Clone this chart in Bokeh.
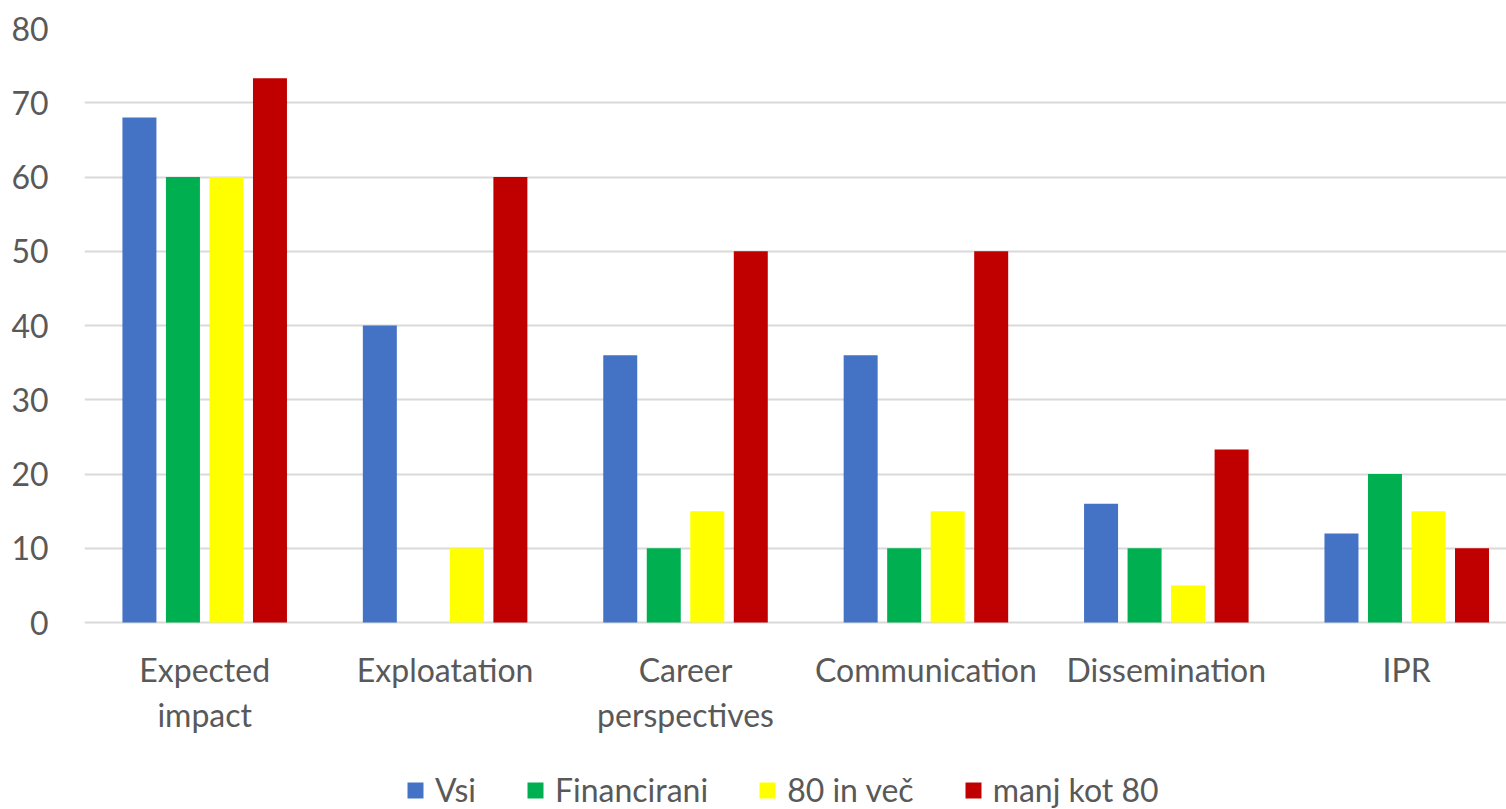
import numpy as np
from bokeh.plotting import figure
from bokeh.models import ColumnDataSource, Range1d, Legend, LegendItem, FixedTicker
from bokeh.core.properties import value
from bokeh.embed import file_html
from bokeh.resources import INLINE

categories = ["Expected\nimpact", "Exploatation", "Career\nperspectives",
              "Communication", "Dissemination", "IPR"]
series = ["Vsi", "Financirani", "80 in več", "manj kot 80"]
vsi = [68, 40, 36, 36, 16, 12]
financirani = [60, 0, 10, 10, 10, 20]
in80 = [60, 10, 15, 15, 5, 15]
manj80 = [73.3, 60, 50, 50, 23.3, 10]
values = [vsi, financirani, in80, manj80]
colors = ["#4472C4", "#00B050", "#FFFF00", "#C00000"]
y_ticks = [0, 10, 20, 30, 40, 50, 60, 70, 80]

FONT = "Lato"
TXT = "#595959"
FS = "32px"

# layout in pixels
TOP = 28          # y=80 gridline
ZERO = 622        # y=0 gridline
H = 809
px_per_unit = (ZERO - TOP) / 80.0
y_min = -(H - ZERO) / px_per_unit

p = figure(frame_width=1422, frame_height=H - TOP,
           x_range=Range1d(-0.5, 5.415), y_range=Range1d(y_min, 80),
           output_backend="svg", toolbar_location=None,
           x_axis_location=None,
           min_border_left=84, min_border_right=0, min_border_top=TOP,
           min_border_bottom=0)
p.outline_line_color = None
p.background_fill_color = "white"
p.border_fill_color = "white"

idx = np.arange(len(categories))
bar_w = 0.1414
step = 0.181
offsets = [-1.5 * step, -0.5 * step, 0.5 * step, 1.5 * step]

items = []
for s, vals, c, off in zip(series, values, colors, offsets):
    src = ColumnDataSource(dict(x=idx + off, top=vals))
    r = p.vbar(x="x", top="top", width=bar_w, source=src, fill_color=c,
               line_color=None)
    items.append(LegendItem(label=s, renderers=[r]))

# category labels (one or two lines each)
line1 = [c.split("\n")[0] for c in categories]
line2 = [c.split("\n")[1] if "\n" in c else "" for c in categories]
for txt, yoff in ((line1, 47), (line2, 92)):
    p.text(x=idx, y=[0] * len(idx), text=txt, y_offset=yoff,
           text_align="center", text_baseline="alphabetic",
           text_font=value(FONT), text_font_size=value(FS),
           text_color=TXT)

p.xgrid.visible = False
p.ygrid.grid_line_color = "#D9D9D9"
p.ygrid.grid_line_width = 2

p.yaxis.ticker = FixedTicker(ticks=y_ticks)
p.yaxis.axis_line_color = None
p.yaxis.major_tick_line_color = None
p.yaxis.minor_tick_line_color = None
p.yaxis.major_label_text_font = FONT
p.yaxis.major_label_text_font_size = FS
p.yaxis.major_label_text_color = TXT
p.yaxis.major_label_standoff = 30

legend = Legend(items=items, orientation="horizontal", location=(321, 0),
                border_line_color=None, background_fill_alpha=0,
                glyph_width=20, glyph_height=20, label_standoff=10,
                spacing=49, padding=0, margin=0,
                label_text_font=FONT, label_text_font_size=FS,
                label_text_color=TXT)
p.add_layout(legend, "center")

open("out.html", "w").write(file_html(p, INLINE))
